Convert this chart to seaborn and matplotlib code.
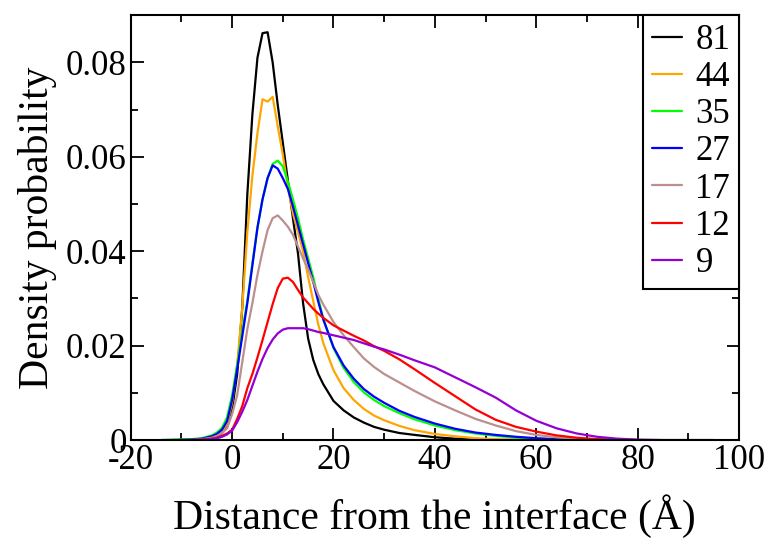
import matplotlib
matplotlib.use('Agg')
import matplotlib.pyplot as plt
import pandas as pd
import numpy as np
import seaborn as sns
from matplotlib.ticker import MultipleLocator, FuncFormatter

# Distance grid (Angstrom)
dist = [-14, -12, -8, -6, -4, -3, -2, -1, 0, 1, 2, 3, 4, 5, 6, 7, 8, 9, 10, 11, 12,
        13, 14, 15, 16, 17, 18, 20, 22, 24, 26, 28, 30, 33, 36, 40, 44, 48, 52,
        56, 60, 64, 68, 72, 76, 80, 85, 90, 95]

p81 = [0, 0, 0, 0.0001, 0.0004, 0.0008, 0.0015, 0.0028, 0.0065, 0.0140, 0.0280,
       0.0520, 0.0690, 0.0810, 0.0862, 0.0864, 0.0800, 0.0710, 0.0630, 0.0550,
       0.0470, 0.0395, 0.0290, 0.0215, 0.0170, 0.0140, 0.0118, 0.0083, 0.0063,
       0.0048, 0.0037, 0.0028, 0.0022, 0.0015, 0.0011, 0.0006, 0.0003, 0.0001,
       0, 0, 0, 0, 0, 0, 0, 0, 0, 0, 0]
p44 = [0, 0, 0, 0.0002, 0.0006, 0.0010, 0.0018, 0.0035, 0.0080, 0.0160, 0.0280,
       0.0440, 0.0560, 0.0650, 0.0722, 0.0717, 0.0727, 0.0665, 0.0605, 0.0535,
       0.0480, 0.0440, 0.0400, 0.0345, 0.0295, 0.0245, 0.0205, 0.0148, 0.0110,
       0.0085, 0.0066, 0.0052, 0.0042, 0.0030, 0.0021, 0.0013, 0.0008, 0.0004,
       0.0002, 0.0001, 0, 0, 0, 0, 0, 0, 0, 0, 0]
p35 = [0, 0.0001, 0.0002, 0.0004, 0.0010, 0.0016, 0.0026, 0.0048, 0.0095, 0.0160,
       0.0230, 0.0295, 0.0375, 0.0450, 0.0510, 0.0555, 0.0585, 0.0592, 0.0580,
       0.0548, 0.0510, 0.0470, 0.0425, 0.0385, 0.0345, 0.0300, 0.0257, 0.0195,
       0.0153, 0.0123, 0.0101, 0.0085, 0.0072, 0.0057, 0.0044, 0.0031, 0.0021,
       0.0014, 0.0009, 0.0005, 0.0003, 0.0001, 0, 0, 0, 0, 0, 0, 0]
p27 = [0, 0, 0.0001, 0.0003, 0.0008, 0.0013, 0.0022, 0.0040, 0.0085, 0.0150,
       0.0220, 0.0290, 0.0370, 0.0450, 0.0510, 0.0555, 0.0582, 0.0575, 0.0555,
       0.0532, 0.0495, 0.0455, 0.0415, 0.0375, 0.0335, 0.0293, 0.0255, 0.0197,
       0.0158, 0.0130, 0.0108, 0.0092, 0.0079, 0.0062, 0.0049, 0.0035, 0.0024,
       0.0016, 0.0011, 0.0007, 0.0004, 0.0002, 0.0001, 0, 0, 0, 0, 0, 0]
p17 = [0, 0, 0, 0.0002, 0.0005, 0.0009, 0.0015, 0.0025, 0.0055, 0.0095, 0.0165,
       0.0235, 0.0290, 0.0350, 0.0400, 0.0445, 0.0470, 0.0476, 0.0465, 0.0452,
       0.0435, 0.0410, 0.0385, 0.0362, 0.0335, 0.0308, 0.0287, 0.0250, 0.0222,
       0.0197, 0.0173, 0.0155, 0.0140, 0.0122, 0.0104, 0.0082, 0.0063, 0.0045,
       0.0031, 0.0019, 0.0011, 0.0006, 0.0003, 0.0001, 0, 0, 0, 0, 0]
p12 = [0, 0, 0, 0.0001, 0.0003, 0.0005, 0.0009, 0.0014, 0.0022, 0.0045, 0.0072,
       0.0110, 0.0140, 0.0175, 0.0212, 0.0250, 0.0288, 0.0322, 0.0342, 0.0344,
       0.0335, 0.0318, 0.0302, 0.0290, 0.0278, 0.0268, 0.0259, 0.0243, 0.0232,
       0.0221, 0.0211, 0.0199, 0.0189, 0.0171, 0.0150, 0.0121, 0.0093, 0.0065,
       0.0043, 0.0028, 0.0018, 0.0010, 0.0005, 0.0002, 0.0001, 0, 0, 0, 0]
p9 = [0, 0, 0, 0.0001, 0.0002, 0.0004, 0.0007, 0.0012, 0.0020, 0.0038, 0.0060,
      0.0085, 0.0115, 0.0145, 0.0172, 0.0195, 0.0213, 0.0226, 0.0234, 0.0237,
      0.0237, 0.0237, 0.0237, 0.0235, 0.0232, 0.0229, 0.0227, 0.0222, 0.0217,
      0.0212, 0.0205, 0.0198, 0.0192, 0.0181, 0.0169, 0.0154, 0.0133, 0.0112,
      0.0090, 0.0063, 0.0041, 0.0025, 0.0014, 0.0007, 0.0003, 0.0001, 0, 0, 0]

labels = ["81", "44", "35", "27", "17", "12", "9"]
series = [p81, p44, p35, p27, p17, p12, p9]
colors = ["#000000", "#FFA500", "#00FF00", "#0000FF", "#BC8F8F", "#FF0000", "#9400D3"]

# long-form table for seaborn
rows = []
for lab, vals in zip(labels, series):
    for d, v in zip(dist, vals):
        rows.append((d, v, lab))
df = pd.DataFrame(rows, columns=["dist", "prob", "n"])

sns.set_style("ticks")
plt.rcParams['font.family'] = ['Liberation Serif', 'DejaVu Serif']
plt.rcParams['axes.unicode_minus'] = False
plt.rcParams['text.color'] = 'black'
plt.rcParams['axes.labelcolor'] = 'black'

fig = plt.figure(figsize=(7.69, 5.44), dpi=100)
ax = fig.add_axes([0.170, 0.191, 0.791, 0.781])

sns.lineplot(data=df, x="dist", y="prob", hue="n", hue_order=labels,
             palette=dict(zip(labels, colors)), estimator=None, sort=False,
             linewidth=1.6, ax=ax)

ax.set_xlim(-20, 100)
ax.set_ylim(0, 0.09)
ax.xaxis.set_major_locator(MultipleLocator(20))
ax.xaxis.set_minor_locator(MultipleLocator(10))
ax.yaxis.set_major_locator(MultipleLocator(0.02))
ax.yaxis.set_minor_locator(MultipleLocator(0.01))
ax.yaxis.set_major_formatter(FuncFormatter(lambda v, p: "0" if abs(v) < 1e-9 else f"{v:.2f}"))
ax.tick_params(which="both", direction="in", top=True, right=True, width=1.3,
               labelsize=25, colors="black")
ax.tick_params(which="major", length=9, pad=3)
ax.tick_params(which="minor", length=5)
for s in ax.spines.values():
    s.set_linewidth(1.5)
    s.set_color("black")

ax.set_xlabel("Distance from the interface (Å)", fontsize=30, labelpad=12)
ax.set_ylabel("Density probability", fontsize=30, labelpad=6)

leg = ax.legend(loc="upper right", borderaxespad=0, fontsize=25, frameon=True,
                fancybox=False, framealpha=1, edgecolor="black",
                handlelength=0.85, handletextpad=0.4, labelspacing=0.12,
                borderpad=0.25, title=None)
leg.get_frame().set_linewidth(1.5)

fig.savefig("out.png", dpi=100)
